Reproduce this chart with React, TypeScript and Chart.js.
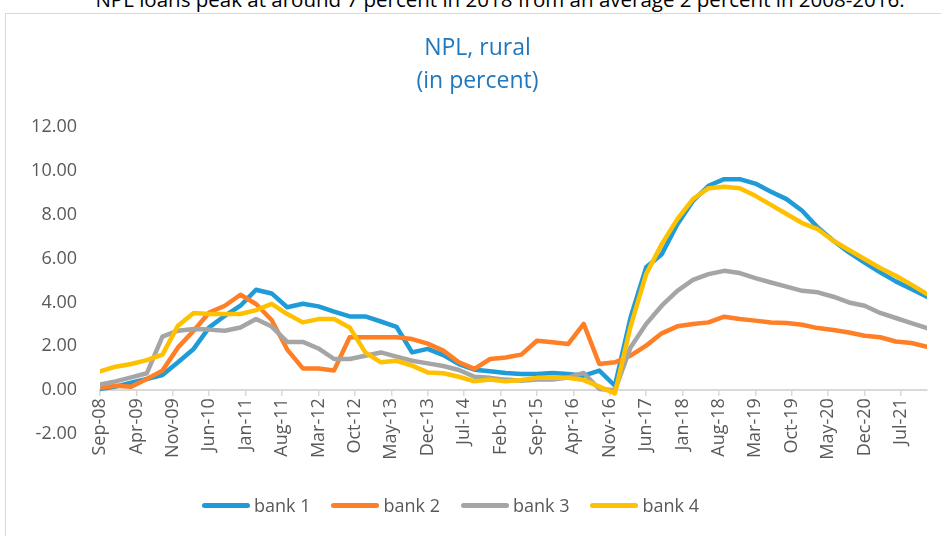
import React, { useEffect, useRef } from 'react';
import { Chart, registerables } from 'chart.js';

Chart.register(...registerables);
Chart.defaults.font.family = "'Open Sans', sans-serif";

const quarters = [
  'Sep-08', 'Dec-08',
  'Mar-09', 'Jun-09', 'Sep-09', 'Dec-09',
  'Mar-10', 'Jun-10', 'Sep-10', 'Dec-10',
  'Mar-11', 'Jun-11', 'Sep-11', 'Dec-11',
  'Mar-12', 'Jun-12', 'Sep-12', 'Dec-12',
  'Mar-13', 'Jun-13', 'Sep-13', 'Dec-13',
  'Mar-14', 'Jun-14', 'Sep-14', 'Dec-14',
  'Mar-15', 'Jun-15', 'Sep-15', 'Dec-15',
  'Mar-16', 'Jun-16', 'Sep-16', 'Dec-16',
  'Mar-17', 'Jun-17', 'Sep-17', 'Dec-17',
  'Mar-18', 'Jun-18', 'Sep-18', 'Dec-18',
  'Mar-19', 'Jun-19', 'Sep-19', 'Dec-19',
  'Mar-20', 'Jun-20', 'Sep-20', 'Dec-20',
  'Mar-21', 'Jun-21', 'Sep-21', 'Dec-21',
];

const bank1 = [0.05, 0.16, 0.34, 0.51, 0.69, 1.27, 1.88, 2.86, 3.39, 3.85, 4.58, 4.41, 3.78, 3.94, 3.82, 3.58, 3.36, 3.36, 3.13, 2.89, 1.72, 1.88, 1.6, 1.19, 0.93, 0.86, 0.78, 0.74, 0.74, 0.78, 0.74, 0.66, 0.89, 0.2, 3.3, 5.6, 6.2, 7.57, 8.63, 9.32, 9.62, 9.62, 9.42, 9.05, 8.71, 8.18, 7.42, 6.81, 6.28, 5.82, 5.37, 4.96, 4.61, 4.26];
const bank2 = [0.1, 0.2, 0.16, 0.51, 0.89, 1.95, 2.71, 3.54, 3.85, 4.35, 3.93, 3.2, 1.85, 0.99, 0.99, 0.9, 2.41, 2.41, 2.41, 2.41, 2.33, 2.12, 1.8, 1.27, 0.97, 1.42, 1.49, 1.62, 2.25, 2.18, 2.1, 3.02, 1.19, 1.27, 1.57, 2.03, 2.59, 2.91, 3.02, 3.09, 3.35, 3.24, 3.17, 3.08, 3.06, 2.98, 2.83, 2.74, 2.63, 2.48, 2.41, 2.22, 2.15, 1.98];
const bank3 = [0.25, 0.4, 0.58, 0.77, 2.44, 2.71, 2.79, 2.76, 2.71, 2.86, 3.24, 2.9, 2.2, 2.2, 1.9, 1.42, 1.42, 1.57, 1.72, 1.53, 1.34, 1.22, 1.1, 0.92, 0.61, 0.56, 0.48, 0.43, 0.49, 0.49, 0.58, 0.78, 0.05, 0.0, 1.95, 3.02, 3.85, 4.53, 5.03, 5.29, 5.44, 5.34, 5.11, 4.91, 4.72, 4.53, 4.46, 4.26, 4.0, 3.85, 3.52, 3.29, 3.06, 2.83];
const bank4 = [0.86, 1.07, 1.19, 1.37, 1.62, 2.94, 3.52, 3.47, 3.47, 3.47, 3.65, 3.93, 3.47, 3.09, 3.24, 3.24, 2.86, 1.72, 1.27, 1.34, 1.12, 0.81, 0.77, 0.61, 0.4, 0.48, 0.4, 0.46, 0.56, 0.56, 0.56, 0.46, 0.16, -0.15, 2.9, 5.29, 6.66, 7.8, 8.71, 9.21, 9.27, 9.21, 8.86, 8.45, 8.03, 7.62, 7.34, 6.81, 6.39, 5.98, 5.57, 5.22, 4.81, 4.38];

const tickLabels = ['Sep-08', 'Apr-09', 'Nov-09', 'Jun-10', 'Jan-11', 'Aug-11', 'Mar-12', 'Oct-12', 'May-13', 'Dec-13', 'Jul-14', 'Feb-15', 'Sep-15', 'Apr-16', 'Nov-16', 'Jun-17', 'Jan-18', 'Aug-18', 'Mar-19', 'Oct-19', 'May-20', 'Dec-20', 'Jul-21'];

const seriesNames = ['bank 1', 'bank 2', 'bank 3', 'bank 4'];
const seriesColors = ['#1F9BD7', '#FF7F27', '#A5A5A5', '#FFC000'];
const seriesValues = [bank1, bank2, bank3, bank4];

const yMin = -2;
const yMax = 12;
const yStep = 2;

const titleLines = ['NPL, rural', '(in percent)'];
const caption = 'NPL loans peak at around 7 percent in 2018 from an average 2 percent in 2008-2016.';

const MONTHS = ['Jan', 'Feb', 'Mar', 'Apr', 'May', 'Jun', 'Jul', 'Aug', 'Sep', 'Oct', 'Nov', 'Dec'];
function monthNumber(label: string): number {
  const [m, y] = label.split('-');
  return (2000 + Number(y)) * 12 + MONTHS.indexOf(m);
}
const origin = monthNumber(quarters[0]);
const monthIndex = (label: string) => monthNumber(label) - origin;

const TEXT = '#595959';
const AXIS = '#D9D9D9';

function NplChart() {
  const ref = useRef<HTMLCanvasElement | null>(null);
  useEffect(() => {
    if (!ref.current) return;
    const labelAt: Record<number, string> = {};
    tickLabels.forEach((l) => { labelAt[monthIndex(l)] = l; });
    const chart = new Chart(ref.current, {
      type: 'line',
      data: {
        datasets: seriesValues.map((vals, i) => ({
          label: seriesNames[i],
          data: quarters.map((q, j) => ({ x: monthIndex(q), y: vals[j] })),
          borderColor: seriesColors[i],
          backgroundColor: seriesColors[i],
          borderWidth: 4.5,
          pointRadius: 0,
          pointHoverRadius: 0,
          tension: 0,
          borderJoinStyle: 'round',
          borderCapStyle: 'round',
          order: seriesValues.length - i,
        })),
      },
      options: {
        animation: false,
        responsive: false,
        devicePixelRatio: 1,
        layout: { padding: { top: 0, left: 28, right: 38, bottom: 102 } },
        plugins: {
          legend: { display: false },
          tooltip: { enabled: false },
          title: {
            display: true,
            text: titleLines,
            color: '#1F78BE',
            font: { size: 23, weight: 'normal', lineHeight: '33px' },
            padding: { top: 32, bottom: 29 },
          },
        },
        scales: {
          x: {
            type: 'linear',
            position: { y: 0 },
            min: 0,
            max: monthIndex(quarters[quarters.length - 1]),
            afterBuildTicks: (scale: any) => {
              scale.ticks = tickLabels.map((l) => ({ value: monthIndex(l) }));
            },
            ticks: {
              autoSkip: false,
              minRotation: 90,
              maxRotation: 90,
              padding: 3,
              color: TEXT,
              font: { size: 18 },
              callback: (v: any) => labelAt[Number(v)] ?? '',
            },
            grid: { drawOnChartArea: false, drawTicks: true, tickLength: 5, color: AXIS, lineWidth: 1.5 },
            border: { display: true, color: AXIS, width: 2 },
          },
          y: {
            min: yMin,
            max: yMax,
            afterFit: (scale: any) => { scale.width = 72; },
            ticks: {
              stepSize: yStep,
              padding: 23,
              color: TEXT,
              font: { size: 18 },
              callback: (v: any) => Number(v).toFixed(2),
            },
            grid: { display: false, drawTicks: false },
            border: { display: false },
          },
        },
      },
    } as any);
    return () => chart.destroy();
  }, []);
  return <canvas ref={ref} width={965} height={536} style={{ position: 'absolute', left: 0, top: 0 }} />;
}

export default function App() {
  return (
    <div style={{ position: 'fixed', left: 0, top: 0, width: 941, height: 536, overflow: 'hidden', background: '#fff', fontFamily: "'Open Sans', sans-serif" }}>
      <div style={{ position: 'absolute', left: 0, top: -12, width: 1000, textAlign: 'center', fontSize: 20.5, lineHeight: '22px', color: '#000', whiteSpace: 'nowrap' }}>{caption}</div>
      <div style={{ position: 'absolute', left: 5, top: 13, width: 990, height: 560, border: `1px solid ${AXIS}` }} />
      <NplChart />
      <div style={{ position: 'absolute', left: 202, top: 493, height: 24, display: 'flex', alignItems: 'center', fontSize: 18, color: TEXT }}>
        {seriesNames.map((n, i) => (
          <div key={n} style={{ display: 'flex', alignItems: 'center', marginRight: 21 }}>
            <span style={{ display: 'inline-block', width: 48, height: 5, borderRadius: 3, background: seriesColors[i], marginRight: 4 }} />
            <span>{n}</span>
          </div>
        ))}
      </div>
    </div>
  );
}
